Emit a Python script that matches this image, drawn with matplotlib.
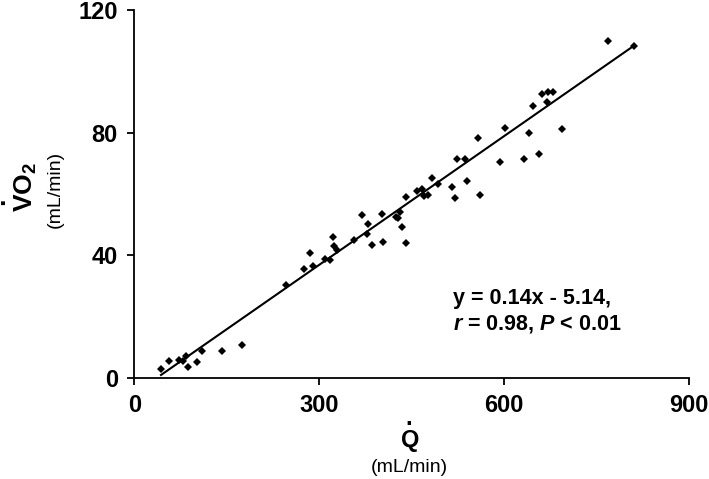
import matplotlib
matplotlib.use('Agg')
import matplotlib.pyplot as plt
import numpy as np

plt.rcParams['font.family'] = ['Liberation Sans', 'DejaVu Sans']
plt.rcParams['mathtext.fontset'] = 'custom'
plt.rcParams['mathtext.rm'] = 'Liberation Sans'
plt.rcParams['mathtext.bf'] = 'Liberation Sans:bold'
plt.rcParams['mathtext.it'] = 'Liberation Sans:bold:italic'

# cardiac output (Q, mL/min) vs oxygen uptake (VO2, mL/min)
q_vals = [43, 56, 73, 79, 83, 87, 101, 109, 142, 174,
          246, 275, 285, 290, 309, 317, 322, 323, 328, 356,
          369, 377, 379, 385, 402, 404, 424, 427, 431, 434,
          441, 441, 458, 466, 470, 477, 483, 492, 516, 520,
          523, 536, 540, 557, 561, 594, 602, 632, 640, 646,
          656, 662, 670, 671, 679, 694, 769, 810]
vo2_vals = [2.8, 5.5, 5.8, 5.5, 7.1, 3.4, 5.2, 8.8, 8.8, 10.8,
            30.4, 35.5, 40.8, 36.4, 38.9, 38.3, 45.8, 43.0, 41.6, 44.9,
            53.1, 46.8, 50.3, 43.4, 53.5, 44.4, 52.4, 52.0, 54.0, 49.3,
            59.1, 44.1, 61.0, 61.7, 59.3, 59.6, 65.1, 63.2, 62.2, 58.6,
            71.5, 71.5, 64.1, 78.2, 59.7, 70.5, 81.5, 71.5, 79.9, 88.8,
            72.9, 92.5, 90.0, 93.2, 93.4, 81.3, 109.8, 108.3]

slope = 0.14
intercept = -5.14
x_ticks = [0, 300, 600, 900]
y_ticks = [0, 40, 80, 120]

fig = plt.figure(figsize=(7.09, 4.79), dpi=100)
ax = fig.add_axes([0.1897, 0.2115, 0.7821, 0.7676])

ax.plot(q_vals, vo2_vals, 'D', color='black', markersize=3.8, markeredgewidth=0)

# regression line over the data range
xl = np.array([min(q_vals), max(q_vals)])
ax.plot(xl, slope * xl + intercept, color='black', lw=1.5)

ax.set_xlim(0, 900)
ax.set_ylim(0, 120)
ax.set_xticks(x_ticks)
ax.set_yticks(y_ticks)
ax.tick_params(axis='both', direction='out', length=5, width=1.3, labelsize=17, pad=7)
for lab in ax.get_xticklabels() + ax.get_yticklabels():
    lab.set_fontweight('bold')

for s in ['top', 'right']:
    ax.spines[s].set_visible(False)
for s in ['left', 'bottom']:
    ax.spines[s].set_linewidth(1.3)
    ax.spines[s].set_clip_on(False)

# annotation
ax.text(0.575, 0.215, 'y = 0.14x - 5.14,', transform=ax.transAxes,
        fontsize=15.5, fontweight='bold', ha='left', va='center')
ax.text(0.575, 0.145, r'$\it{r}$' + ' = 0.98, ' + r'$\it{P}$' + ' < 0.01',
        transform=ax.transAxes, fontsize=15.5, fontweight='bold', ha='left', va='center')

# x axis label with dot
fig.text(0.578, 0.081, 'Q', fontsize=17, fontweight='bold', ha='center', va='center')
fig.text(0.578, 0.113, '\u00b7', fontsize=17, fontweight='bold', ha='center', va='center')
fig.text(0.578, 0.023, '(mL/min)', fontsize=14, ha='center', va='center')

# y axis label with dot
fig.text(0.036, 0.61, r'V$\mathregular{O_2}$', fontsize=19, fontweight='bold',
         rotation=90, ha='center', va='center')
fig.text(0.006, 0.582, '\u00b7', fontsize=19, fontweight='bold', rotation=90,
         ha='center', va='center')
fig.text(0.078, 0.605, '(mL/min)', fontsize=14, rotation=90, ha='center', va='center')

fig.savefig('out.png', dpi=100)
